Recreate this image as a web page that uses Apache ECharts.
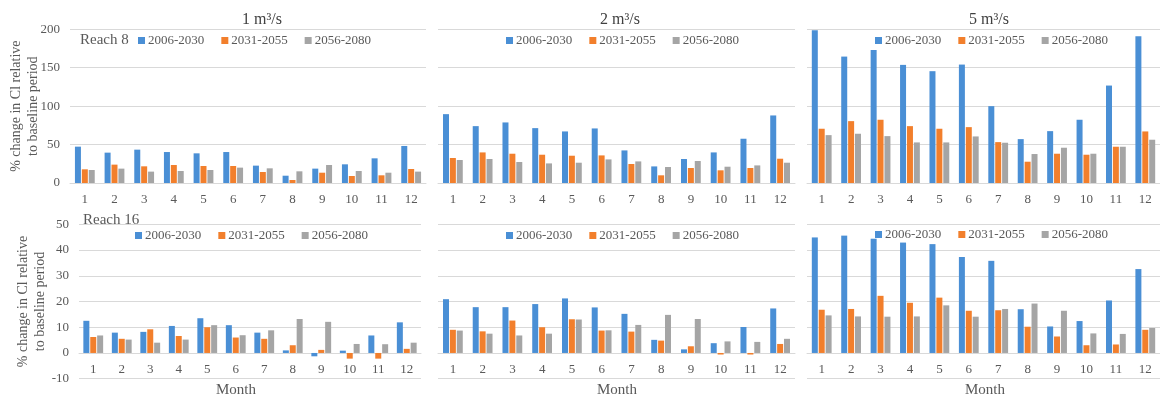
<!DOCTYPE html>
<html>
<head>
<meta charset="utf-8">
<script src="https://cdn.jsdelivr.net/npm/echarts@6/dist/echarts.min.js"></script>
<style>
html,body{margin:0;padding:0;background:#fff;}
#chart{width:1160px;height:399px;}
</style>
</head>
<body>
<div id="chart"></div>
<script>
const months = ['1','2','3','4','5','6','7','8','9','10','11','12'];
const periods = ['2006-2030','2031-2055','2056-2080'];
const panelTitles = ['1 m³/s','2 m³/s','5 m³/s'];
const topTicks = [0, 200, 50];     // min, max, interval
const bottomTicks = [-10, 50, 10];

// Reach 8
const r8_1_p1 = [47.3, 39.5, 43.4, 40.3, 38.6, 40.3, 22.6, 9.5, 18.7, 24.3, 32.1, 48.2];
const r8_1_p2 = [17.8, 23.9, 21.7, 23.4, 22.1, 22.1, 14.3, 3.9, 13.4, 9.1, 10.0, 18.2];
const r8_1_p3 = [16.9, 18.7, 14.8, 15.6, 16.9, 20.0, 19.1, 15.2, 23.4, 15.6, 13.4, 14.8];
const r8_2_p1 = [89.6, 74.0, 78.8, 71.4, 67.1, 71.0, 42.4, 21.6, 31.2, 39.8, 57.6, 87.9];
const r8_2_p2 = [32.5, 39.8, 38.1, 36.8, 35.5, 35.9, 24.7, 10.0, 19.5, 16.5, 19.5, 31.6];
const r8_2_p3 = [29.9, 31.2, 27.3, 25.5, 26.4, 30.7, 28.1, 20.8, 28.6, 21.2, 22.9, 26.4];
const r8_5_p1 = [198.7, 164.5, 173.2, 153.7, 145.5, 154.1, 100.0, 57.1, 67.5, 82.3, 126.8, 190.9];
const r8_5_p2 = [70.6, 80.5, 82.3, 74.0, 70.6, 72.7, 53.2, 27.7, 38.1, 36.8, 47.2, 67.1];
const r8_5_p3 = [62.3, 64.1, 61.0, 52.8, 52.8, 60.6, 52.4, 37.7, 45.9, 38.1, 47.2, 56.3];
// Reach 16
const r16_1_p1 = [12.5, 7.9, 8.2, 10.5, 13.5, 10.8, 7.9, 1.0, -1.3, 0.9, 6.8, 11.9];
const r16_1_p2 = [6.2, 5.5, 9.2, 6.6, 10.0, 6.0, 5.5, 3.0, 1.2, -2.2, -2.2, 1.6];
const r16_1_p3 = [6.8, 5.2, 4.0, 5.2, 10.8, 6.9, 8.8, 13.2, 12.1, 3.5, 3.4, 4.0];
const r16_2_p1 = [20.9, 17.8, 17.8, 19.0, 21.2, 17.7, 15.2, 5.1, 1.4, 3.8, 10.1, 17.3];
const r16_2_p2 = [9.0, 8.4, 12.6, 10.0, 13.1, 8.7, 8.3, 4.8, 2.6, -0.6, -0.6, 3.5];
const r16_2_p3 = [8.7, 7.5, 6.8, 7.5, 13.0, 8.8, 10.9, 14.8, 13.2, 4.5, 4.3, 5.5];
const r16_5_p1 = [44.9, 45.6, 44.4, 42.9, 42.3, 37.3, 35.8, 17.0, 10.3, 12.4, 20.4, 32.6];
const r16_5_p2 = [16.8, 17.1, 22.2, 19.5, 21.5, 16.4, 16.6, 10.2, 6.4, 3.0, 3.3, 9.0];
const r16_5_p3 = [14.6, 14.2, 14.1, 14.2, 18.5, 14.1, 17.1, 19.2, 16.4, 7.6, 7.4, 9.7];

const panelData = [
  [r8_1_p1, r8_1_p2, r8_1_p3], [r8_2_p1, r8_2_p2, r8_2_p3], [r8_5_p1, r8_5_p2, r8_5_p3],
  [r16_1_p1, r16_1_p2, r16_1_p3], [r16_2_p1, r16_2_p2, r16_2_p3], [r16_5_p1, r16_5_p2, r16_5_p3]
];

const colors = ['#4a8fd5', '#f27f2c', '#a5a5a5'];
const FONT = '"Liberation Serif", "Times New Roman", serif';
const gridColor = '#d9d9d9';
const labelColor = '#595959';

const grids = [
  {left: 70, top: 29.3, width: 356, height: 153.7},
  {left: 438, top: 29.3, width: 357, height: 153.7},
  {left: 807, top: 29.3, width: 356, height: 153.7},
  {left: 79, top: 224.3, width: 342, height: 154.4},
  {left: 438, top: 224.3, width: 357, height: 154.4},
  {left: 807, top: 224.3, width: 356, height: 154.4}
];

const xAxes = [], yAxes = [], series = [], legends = [];
const legendLeft = [138, 506, 875, 135, 506, 875];
const legendTop = [34, 34, 34, 229, 229, 228];

grids.forEach((g, i) => {
  const bottomRow = i >= 3;
  const ticks = bottomRow ? bottomTicks : topTicks;
  // place the category axis on the zero line of the value axis
  const zeroOffset = -g.height * (0 - ticks[0]) / (ticks[1] - ticks[0]);
  xAxes.push({
    type: 'category', gridIndex: i, data: months, position: 'bottom', offset: zeroOffset,
    axisLine: {show: true, onZero: false, lineStyle: {color: gridColor, width: 1}},
    axisTick: {show: false},
    axisLabel: {color: labelColor, fontFamily: FONT, fontSize: 13, margin: 10}
  });
  const y = {
    type: 'value', gridIndex: i, min: ticks[0], max: ticks[1], interval: ticks[2],
    splitLine: {show: true, lineStyle: {color: gridColor, width: 1}},
    axisLine: {show: false}, axisTick: {show: false},
    axisLabel: {show: i === 0 || i === 3, color: labelColor, fontFamily: FONT, fontSize: 13, margin: 10}
  };
  if (i === 0 || i === 3) {
    y.name = '% change in Cl relative\nto baseline period';
    y.nameLocation = 'middle';
    y.nameRotate = 90;
    y.nameMoveOverlap = false;
    y.nameGap = i === 0 ? 28 : 30;
    y.nameTextStyle = {color: labelColor, fontFamily: FONT, fontSize: 14, lineHeight: 17};
  }
  yAxes.push(y);
  periods.forEach((p, k) => {
    series.push({
      type: 'bar', name: p, xAxisIndex: i, yAxisIndex: i,
      data: panelData[i][k], barWidth: 6, barGap: '15%',
      itemStyle: {color: colors[k]}
    });
  });
  legends.push({
    data: periods, left: legendLeft[i], top: legendTop[i], orient: 'horizontal', padding: 0,
    itemWidth: 7, itemHeight: 7, itemGap: 17, icon: 'rect', selectedMode: false,
    textStyle: {color: labelColor, fontFamily: FONT, fontSize: 13, padding: [0,0,0,-2]}
  });
});

function txt(x, y, text, size, color) {
  return {type: 'text', x: x, y: y, z: 100,
    style: {text: text, font: size + 'px ' + FONT, fill: color, textAlign: 'center', textVerticalAlign: 'middle'}};
}
const graphics = [
  txt(262, 20, panelTitles[0], 16, '#404040'),
  txt(620, 20, panelTitles[1], 16, '#404040'),
  txt(989, 20, panelTitles[2], 16, '#404040'),
  {type: 'text', x: 80, y: 40, z: 100, style: {text: 'Reach 8', font: '15px ' + FONT, fill: labelColor, textAlign: 'left', textVerticalAlign: 'middle'}},
  {type: 'text', x: 83, y: 220, z: 100, style: {text: 'Reach 16', font: '15px ' + FONT, fill: labelColor, textAlign: 'left', textVerticalAlign: 'middle'}},
  txt(236, 390, 'Month', 15, labelColor),
  txt(617, 390, 'Month', 15, labelColor),
  txt(985, 390, 'Month', 15, labelColor)
];

const chart = echarts.init(document.getElementById('chart'), null, {renderer: 'canvas'});
chart.setOption({
  animation: false,
  backgroundColor: '#ffffff',
  grid: grids,
  xAxis: xAxes,
  yAxis: yAxes,
  series: series,
  legend: legends,
  graphic: graphics
});
</script>
</body>
</html>
